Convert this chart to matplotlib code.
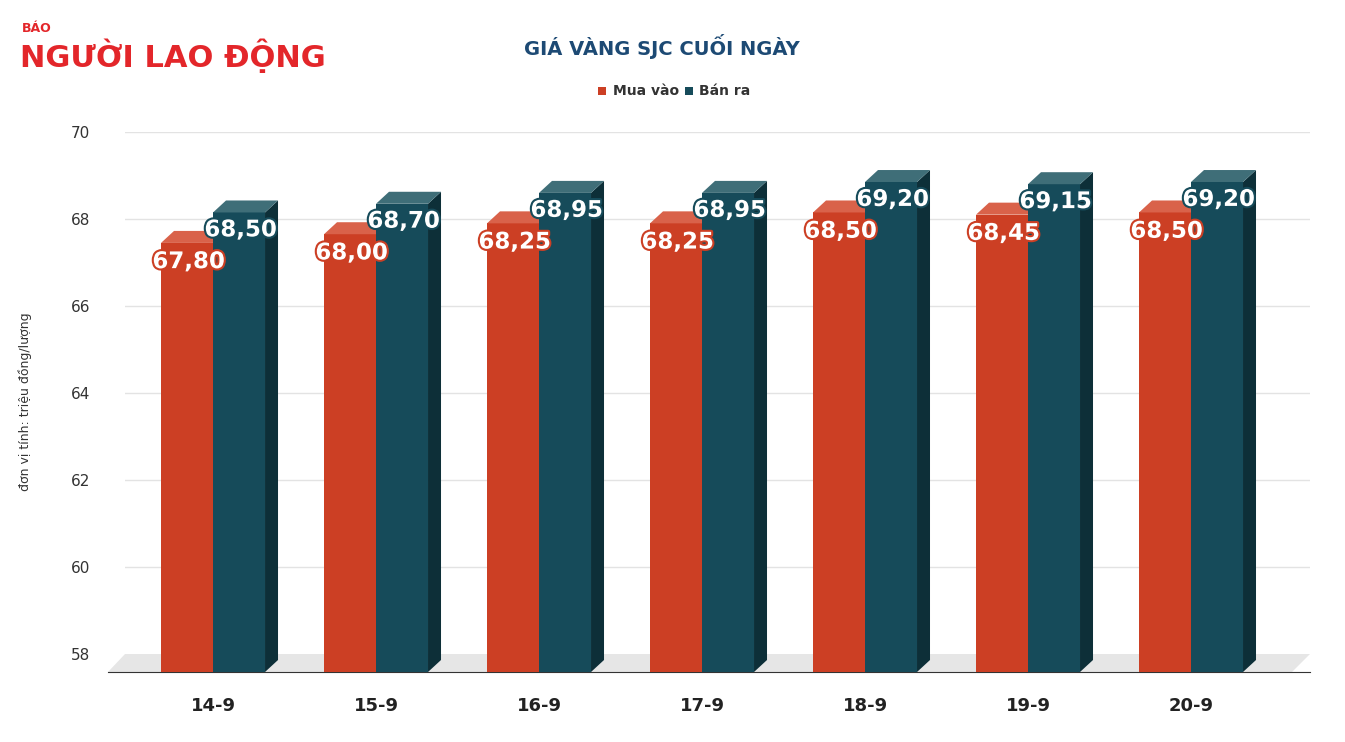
import matplotlib
matplotlib.use("Agg")
import matplotlib.pyplot as plt
from matplotlib.patches import Polygon
import matplotlib.patheffects as pe

categories = ["14-9", "15-9", "16-9", "17-9", "18-9", "19-9", "20-9"]
mua_vao = [67.80, 68.00, 68.25, 68.25, 68.50, 68.45, 68.50]
ban_ra = [68.50, 68.70, 68.95, 68.95, 69.20, 69.15, 69.20]
labels_mua = ["67,80", "68,00", "68,25", "68,25", "68,50", "68,45", "68,50"]
labels_ban = ["68,50", "68,70", "68,95", "68,95", "69,20", "69,15", "69,20"]

RED = "#cc3f24"; RED_TOP = "#d9624a"
TEAL = "#164b5a"; TEAL_TOP = "#3f6e78"; TEAL_SIDE = "#0d2f38"

fig = plt.figure(figsize=(13.45, 7.42), dpi=100)
ax = fig.add_axes([125/1345, 70/742, (1310-125)/1345, (672-132)/742])
ymin = 58 - 18/43.5
ax.set_ylim(ymin, 70)
ax.set_xlim(-0.54, 6.73)
px = 1/163

w = 52/163
dx, dy = 13/163, 12/43.5
ax.add_patch(Polygon([(-0.54 - 17*px, ymin), (6.73 - 18*px, ymin), (6.73, 58), (-0.54, 58)],
                     closed=True, fc="#e6e6e6", ec="none", zorder=1, clip_on=False))
for yv in range(60, 71, 2):
    ax.axhline(yv, color="#e3e3e3", lw=1, zorder=0)

def bar3d(x0, val, front, top, side):
    yt = val - 0.35
    ax.add_patch(Polygon([(x0, ymin), (x0 + w, ymin), (x0 + w, yt), (x0, yt)], fc=front, ec="none", zorder=3))
    ax.add_patch(Polygon([(x0, yt), (x0 + w, yt), (x0 + w + dx, yt + dy), (x0 + dx, yt + dy)], fc=top, ec="none", zorder=3))
    ax.add_patch(Polygon([(x0 + w, ymin), (x0 + w + dx, ymin + dy), (x0 + w + dx, yt + dy), (x0 + w, yt)], fc=side, ec="none", zorder=2))

for i in range(len(categories)):
    bar3d(i - w, mua_vao[i], RED, RED_TOP, "#8a2a17")
    bar3d(i, ban_ra[i], TEAL, TEAL_TOP, TEAL_SIDE)
for i in range(len(categories)):
    ax.text(i - w/2 + 0.01, mua_vao[i] - 0.78, labels_mua[i], ha="center", va="center",
            fontsize=16.5, fontweight="bold", color="white", zorder=5,
            path_effects=[pe.withStroke(linewidth=3, foreground=RED)])
    ax.text(i + w/2 + 0.01, ban_ra[i] - 0.75, labels_ban[i], ha="center", va="center",
            fontsize=16.5, fontweight="bold", color="white", zorder=5,
            path_effects=[pe.withStroke(linewidth=3, foreground=TEAL)])

ax.set_yticks([58, 60, 62, 64, 66, 68, 70])
ax.set_yticklabels(["58", "60", "62", "64", "66", "68", "70"], fontsize=11, color="#333333")
ax.set_xticks(range(len(categories)))
ax.set_xticklabels(categories, fontsize=13, fontweight="bold", color="#222222")
ax.tick_params(length=0, pad=18)
ax.tick_params(axis="y", pad=25)
for s in ["top", "right", "left"]:
    ax.spines[s].set_visible(False)
ax.spines["bottom"].set_color("#333333")
ax.spines["bottom"].set_bounds(-0.54 - 17*px, 6.73)
ax.spines["bottom"].set_clip_on(False)
ax.set_ylabel("đơn vị tính: triệu đồng/lượng", fontsize=9, color="#333333", labelpad=28)

fig.text(0.492, 0.938, "GIÁ VÀNG SJC CUỐI NGÀY", ha="center", va="center",
         fontsize=14, fontweight="bold", color="#1d4a74")
fig.patches.append(plt.Rectangle((598/1345, 0.877 - 4/742), 8/1345, 8/742, transform=fig.transFigure, fc=RED, figure=fig))
fig.text(613/1345, 0.877, "Mua vào", fontsize=10, color="#333333", va="center", fontweight="bold")
fig.patches.append(plt.Rectangle((685/1345, 0.877 - 4/742), 8/1345, 8/742, transform=fig.transFigure, fc=TEAL, figure=fig))
fig.text(699/1345, 0.877, "Bán ra", fontsize=10, color="#333333", va="center", fontweight="bold")

fig.text(22/1345, 0.962, "BÁO", fontsize=9, fontweight="bold", color="#e3262a", va="center")
fig.text(20/1345, 0.925, "NGƯỜI LAO ĐỘNG", fontsize=22, fontweight="heavy", color="#e3262a",
         va="center", family="DejaVu Sans")

fig.savefig("out.png", dpi=100)
